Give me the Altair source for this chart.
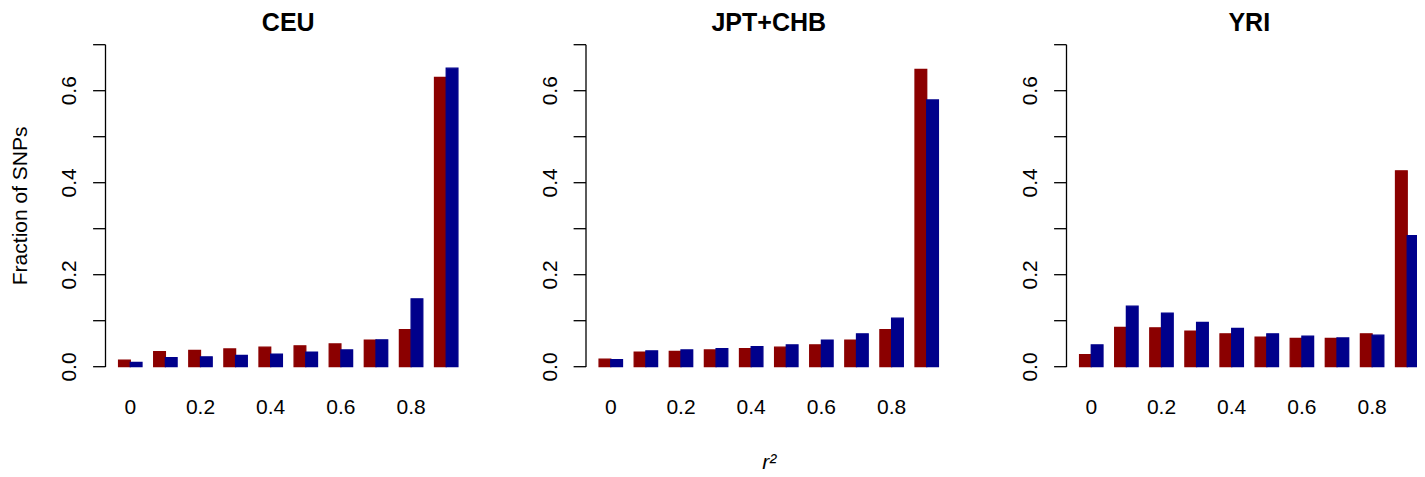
import altair as alt
import pandas as pd

bins = ["0", "0.1", "0.2", "0.3", "0.4", "0.5", "0.6", "0.7", "0.8", "0.9"]
populations = ["CEU", "JPT+CHB", "YRI"]
series = ["Set 1", "Set 2"]
colors = ["#8B0000", "#00008B"]

ceu_red = [0.014, 0.032, 0.035, 0.038, 0.042, 0.045, 0.049, 0.057, 0.080, 0.628]
ceu_blue = [0.009, 0.019, 0.021, 0.024, 0.027, 0.031, 0.036, 0.058, 0.147, 0.648]
jpt_red = [0.016, 0.031, 0.033, 0.036, 0.039, 0.042, 0.047, 0.057, 0.080, 0.645]
jpt_blue = [0.015, 0.034, 0.036, 0.039, 0.043, 0.047, 0.057, 0.071, 0.105, 0.579]
yri_red = [0.026, 0.085, 0.084, 0.077, 0.071, 0.064, 0.061, 0.061, 0.071, 0.425]
yri_blue = [0.047, 0.131, 0.116, 0.096, 0.083, 0.071, 0.066, 0.062, 0.068, 0.284]

y_ticks = [0.0, 0.1, 0.2, 0.3, 0.4, 0.5, 0.6, 0.7]
y_labels = ["0.0", "0.2", "0.4", "0.6"]
x_labels = ["0", "0.2", "0.4", "0.6", "0.8"]

values = {
    "CEU": (ceu_red, ceu_blue),
    "JPT+CHB": (jpt_red, jpt_blue),
    "YRI": (yri_red, yri_blue),
}

rows = []
for pop in populations:
    red, blue = values[pop]
    for i, b in enumerate(bins):
        rows.append({"pop": pop, "bin": b, "series": series[0], "value": red[i]})
        rows.append({"pop": pop, "bin": b, "series": series[1], "value": blue[i]})
df = pd.DataFrame(rows)

FONT = "Liberation Sans"
W = 366.5
H = 322.3

x_expr = "indexof(" + str(x_labels) + ", datum.label) >= 0 ? datum.label : ''"
y_expr = "indexof(" + str(y_labels) + ", datum.label) >= 0 ? datum.label : ''"


def panel(pop, ytitle, xtitle):
    x_axis_kw = dict(
        domain=False, ticks=False, tickSize=0, grid=False, labelAngle=0, labelFontSize=21,
        labelPadding=46.7, labelBaseline="alphabetic", labelAlign="center",
        labelExpr=x_expr, labelColor="black", labelOverlap=False, labelFont=FONT,
    )
    if xtitle:
        x_axis_kw.update(
            title=xtitle, titleFontSize=21, titleFontWeight="normal",
            titleFontStyle="italic", titleY=102, titleBaseline="alphabetic",
            titleX=W / 2, titleAlign="center",
            titleColor="black", titleFont=FONT,
        )
    else:
        x_axis_kw.update(title=None)

    y_axis_kw = dict(
        values=y_ticks, format=".1f", labelExpr=y_expr, grid=False,
        domainColor="black", domainWidth=1.3, tickColor="black", tickWidth=1.3,
        tickSize=12.4, labelPadding=16.9, labelAngle=270, labelAlign="center",
        labelBaseline="alphabetic", labelFontSize=21, labelColor="black",
        labelOverlap=False, labelFlush=False, labelFont=FONT,
    )
    if ytitle:
        y_axis_kw.update(
            title=ytitle, titleFontSize=21, titleFontWeight="normal",
            titleX=-79, titleY=H / 2, titleAngle=270, titleAlign="center",
            titleBaseline="alphabetic", titleColor="black", titleFont=FONT,
        )
    else:
        y_axis_kw.update(title=None)

    return (
        alt.Chart(df[df["pop"] == pop])
        .mark_bar(strokeWidth=1.3)
        .encode(
            x=alt.X("bin:N", sort=bins,
                    scale=alt.Scale(paddingInner=1 / 3, paddingOuter=0.387),
                    axis=alt.Axis(**x_axis_kw)),
            xOffset=alt.XOffset("series:N", sort=series,
                                scale=alt.Scale(paddingInner=0, paddingOuter=0)),
            y=alt.Y("value:Q", scale=alt.Scale(domain=[0, 0.7], nice=False, zero=True),
                    axis=alt.Axis(**y_axis_kw)),
            color=alt.Color("series:N", scale=alt.Scale(domain=series, range=colors), legend=None),
            stroke=alt.Stroke("series:N", scale=alt.Scale(domain=series, range=colors), legend=None),
        )
        .properties(
            width=W, height=H,
            view=alt.ViewBackground(stroke="transparent", strokeWidth=0),
            title=alt.TitleParams(pop, fontSize=25, fontWeight="bold", font=FONT,
                                  anchor="middle", frame="group", baseline="alphabetic",
                                  offset=-12.7, color="black"),
        )
    )


chart = (
    alt.hconcat(
        panel("CEU", "Fraction of SNPs", None),
        panel("JPT+CHB", None, "r\u00b2"),
        panel("YRI", None, None),
        spacing=480 - W,
        bounds="flush",
    )
    .properties(padding={"left": 0, "top": 3.2, "right": -16, "bottom": 0})
    .configure_view(stroke="transparent", strokeWidth=0)
    .configure(font=FONT, background="white")
)

chart.save("out.html", embed_options={"renderer": "svg", "actions": False})
